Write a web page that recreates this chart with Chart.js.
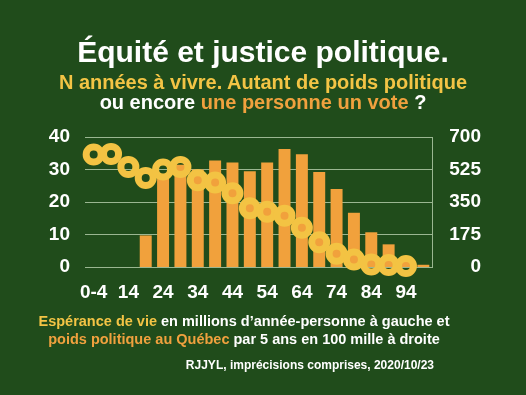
<!DOCTYPE html>
<html>

<head>
    <title>Équité et justice politique</title>
    <meta charset="UTF-8">
    <script src="https://cdn.jsdelivr.net/npm/chart.js@4.4.1/dist/chart.umd.min.js"></script>
    <style>
        * {
            margin: 0;
            padding: 0;
            box-sizing: border-box;
        }

        body {
            width: 526px;
            height: 395px;
            background: #204c1b;
            overflow: hidden;
            position: relative;
            color: #fff;
            font-family: "Liberation Sans", Arial, sans-serif;
            font-weight: bold;
        }

        canvas {
            position: absolute;
            left: 0;
            top: 0;
        }

        .txt {
            position: absolute;
            left: 0;
            width: 526px;
            text-align: center;
            white-space: nowrap;
        }

        .yellow {
            color: #f3c445;
        }

        .orange {
            color: #f0a13e;
        }
    </style>
</head>

<body>
    <canvas id="chart" width="526" height="395"></canvas>

    <div class="txt" style="top:37px; font-size:30px; line-height:30px;">Équité et justice politique.</div>
    <div class="txt yellow" style="top:71.6px; font-size:20px; line-height:20px;">N années à vivre. Autant de poids politique</div>
    <div class="txt" style="top:91.6px; font-size:20px; line-height:20px;">ou encore <span class="orange">une personne un vote</span> ?</div>

    <div class="txt" style="top:314.4px; width:488px; font-size:14.5px; line-height:14.5px;"><span class="yellow">Espérance de vie</span> en millions d’année-personne à gauche et</div>
    <div class="txt" style="top:332px; width:488px; font-size:14.5px; line-height:14.5px;"><span class="orange">poids politique au Québec</span> par 5 ans en 100 mille à droite</div>
    <div class="txt" style="top:358.8px; left:auto; right:92px; width:auto; text-align:right; font-size:12px; line-height:12px;">RJJYL, imprécisions comprises, 2020/10/23</div>

    <script>
        // age groups, 5 years each
        const ageGroups = ['0-4', '5-9', '10-14', '15-19', '20-24', '25-29', '30-34', '35-39', '40-44', '45-49',
            '50-54', '55-59', '60-64', '65-69', '70-74', '75-79', '80-84', '85-89', '90-94', '95-99'];
        const tickLabels = ['0-4', '', '14', '', '24', '', '34', '', '44', '',
            '54', '', '64', '', '74', '', '84', '', '94', ''];

        // life expectancy, millions of person-years (left axis)
        const lifeYears = [34.6, 34.8, 30.8, 27.4, 30.0, 30.8, 26.7, 26.0, 22.7, 18.1,
            17.0, 15.8, 12.1, 7.6, 4.1, 2.3, 0.8, 0.6, 0.3, null];

        // political weight (right axis)
        const voters = [0, 0, 0, 170, 480, 550, 525, 574, 563, 516,
            563, 635, 607, 511, 420, 292, 187, 122, 50, 12];

        const leftTicks = [0, 10, 20, 30, 40];
        const rightTicks = [0, 175, 350, 525, 700];

        const gridColor = 'rgba(195, 218, 185, 0.75)';
        const tickFont = { family: '"Liberation Sans", Arial, sans-serif', size: 19, weight: 'bold' };

        new Chart(document.getElementById('chart').getContext('2d'), {
            data: {
                labels: ageGroups,
                datasets: [{
                    type: 'line',
                    data: lifeYears,
                    yAxisID: 'y',
                    showLine: false,
                    pointRadius: 7.5,
                    pointHoverRadius: 7.5,
                    pointBorderWidth: 7,
                    pointBorderColor: '#f3c343',
                    pointBackgroundColor: 'rgba(0,0,0,0)',
                    clip: false,
                    order: 1
                }, {
                    type: 'bar',
                    data: voters,
                    yAxisID: 'y2',
                    backgroundColor: '#f1a13c',
                    barPercentage: 0.69,
                    categoryPercentage: 1,
                    order: 2
                }]
            },
            options: {
                responsive: false,
                animation: false,
                events: [],
                layout: { padding: { top: 137, bottom: 0, left: 0, right: 45 } },
                plugins: {
                    legend: { display: false },
                    tooltip: { enabled: false }
                },
                scales: {
                    x: {
                        grid: { display: false },
                        border: { display: false },
                        ticks: {
                            color: '#fff',
                            font: tickFont,
                            autoSkip: false,
                            maxRotation: 0,
                            padding: 6,
                            callback: (v, i) => tickLabels[i]
                        },
                        afterFit: s => { s.height = 128; }
                    },
                    y: {
                        position: 'left',
                        min: 0,
                        max: 40,
                        grid: { color: gridColor, lineWidth: 1, drawTicks: false },
                        border: { display: false },
                        afterBuildTicks: s => { s.ticks = leftTicks.map(v => ({ value: v })); },
                        ticks: { color: '#fff', font: tickFont, padding: 15 },
                        afterFit: s => { s.width = 85; }
                    },
                    y2: {
                        position: 'right',
                        min: 0,
                        max: 700,
                        grid: { display: false, drawTicks: false },
                        border: { display: true, color: gridColor, width: 1 },
                        afterBuildTicks: s => { s.ticks = rightTicks.map(v => ({ value: v })); },
                        ticks: { color: '#fff', font: tickFont, padding: 15, crossAlign: 'far' },
                        afterFit: s => { s.width = 49; }
                    }
                }
            }
        });
    </script>
</body>

</html>
